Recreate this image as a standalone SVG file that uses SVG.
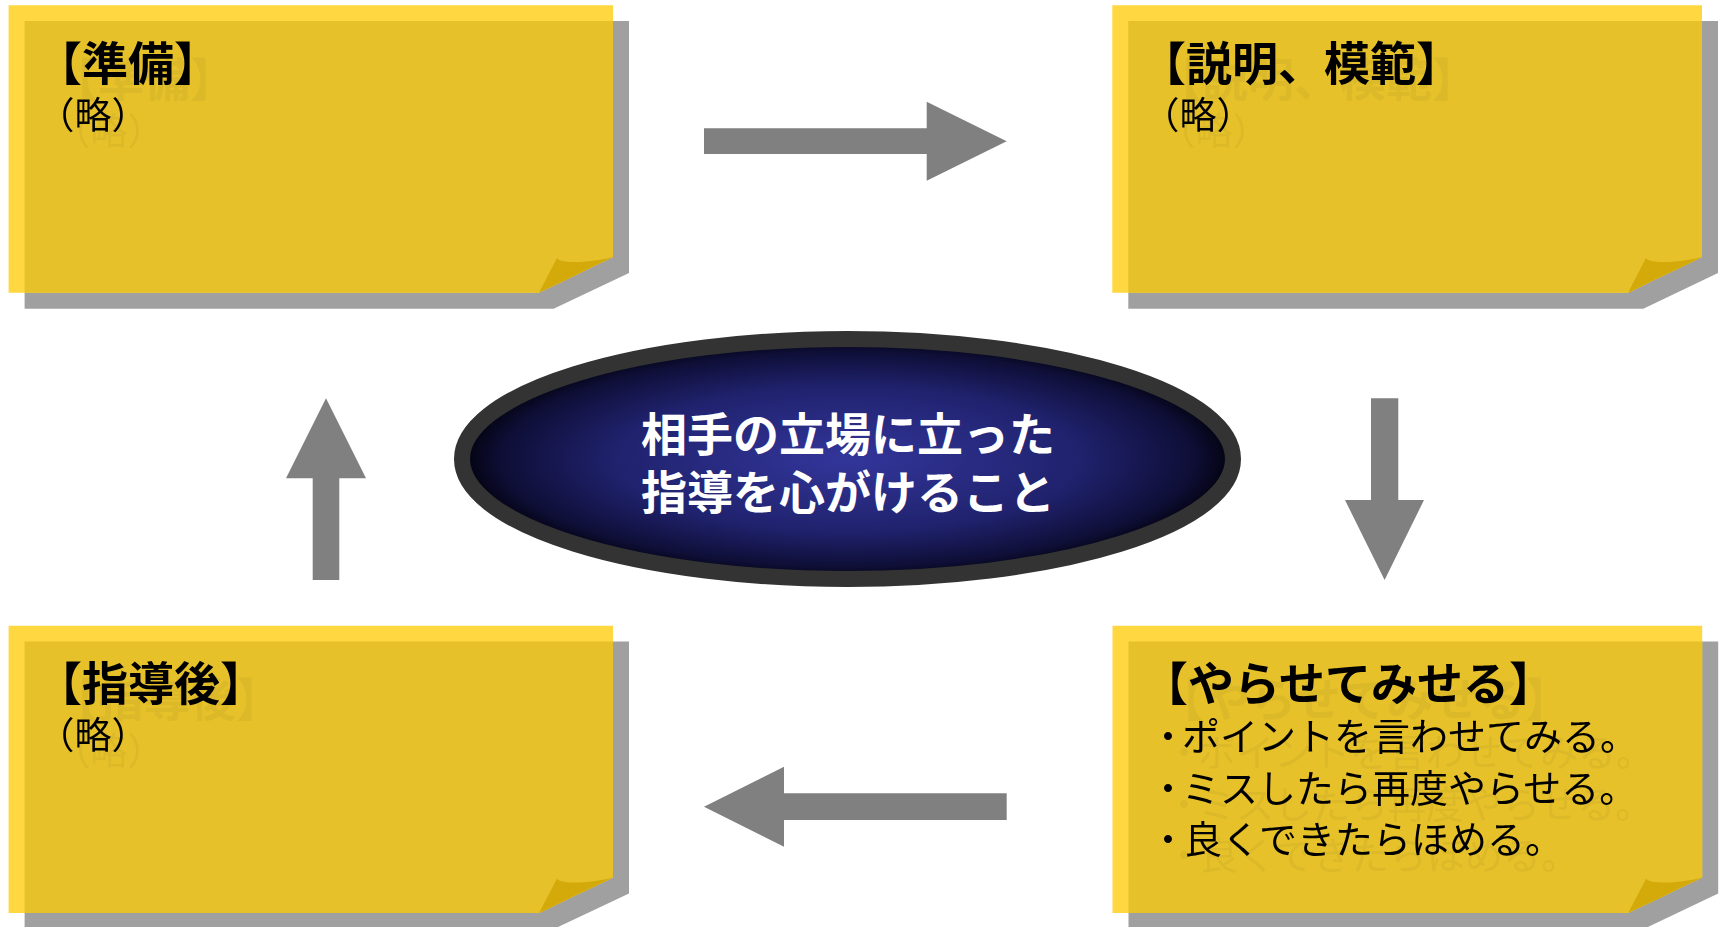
<svg xmlns="http://www.w3.org/2000/svg" width="1721" height="927" viewBox="0 0 1721 927">
<style>
.shadow{fill:#a0a0a0}
.light{fill:#ffd740}
.over{fill:#e6c12a}
.fold{fill:#d4aa0a}
.lbl{font-family:"Noto Sans CJK JP",sans-serif;fill:#000}
.title{font-weight:700;font-size:46px}
.body{font-weight:400;font-size:37px}
.bul{font-weight:400;font-size:38px}
.ctext{font-family:"Noto Sans CJK JP",sans-serif;font-weight:700;font-size:46px;fill:#fff}
.arrow{fill:#808080}
</style>
<defs>
<filter id="ghost" x="-10%" y="-20%" width="130%" height="160%">
<feDropShadow dx="16" dy="16" stdDeviation="0.6" flood-color="#000" flood-opacity="0.045"/>
</filter>
<radialGradient id="cg" cx="50%" cy="50%" r="50%">
<stop offset="0" stop-color="#33369a"/>
<stop offset="0.6" stop-color="#20226e"/>
<stop offset="0.9" stop-color="#0e0e36"/>
<stop offset="1" stop-color="#02020e"/>
</radialGradient>
</defs>
<rect width="1721" height="927" fill="#fff"/>

<g id="node-junbi" transform="translate(8.6,5.3)">
<path class="shadow" d="M16,15.7 H620.4 V267.7 L545,303.4 H16 Z"/>
<path class="light" d="M0,0 H604.4 V251.7 L530.4,287.4 H0 Z"/>
<path class="over" d="M16,15.7 H604.4 V251.7 L530.4,287.4 H16 Z"/>
<path class="fold" d="M548.4,252.7 C551,258.7 581,257.7 604.4,251.7 L530.4,287.4 Z"/>
<text class="lbl" filter="url(#ghost)"><tspan class="title" x="27.4" y="74.7">【準備】</tspan><tspan class="body" x="29" y="123.7">（略）</tspan></text>
</g>

<g id="node-setsumei" transform="translate(1112.3,5.3)">
<path class="shadow" d="M16,15.7 H605.7 V267.7 L531,303.4 H16 Z"/>
<path class="light" d="M0,0 H589.7 V251.7 L515.7,287.4 H0 Z"/>
<path class="over" d="M16,15.7 H589.7 V251.7 L515.7,287.4 H16 Z"/>
<path class="fold" d="M533.7,252.7 C536.3,258.7 566.3,257.7 589.7,251.7 L515.7,287.4 Z"/>
<text class="lbl" filter="url(#ghost)"><tspan class="title" x="27.7" y="74.7">【説明、模範】</tspan><tspan class="body" x="30.3" y="123.7">（略）</tspan></text>
</g>

<g id="node-shidougo" transform="translate(8.6,625.7)">
<path class="shadow" d="M16,15.7 H620.4 V267.7 L545,303.4 H16 Z"/>
<path class="light" d="M0,0 H604.4 V251.7 L530.4,287.4 H0 Z"/>
<path class="over" d="M16,15.7 H604.4 V251.7 L530.4,287.4 H16 Z"/>
<path class="fold" d="M548.4,252.7 C551,258.7 581,257.7 604.4,251.7 L530.4,287.4 Z"/>
<text class="lbl" filter="url(#ghost)"><tspan class="title" x="27.4" y="74.7">【指導後】</tspan><tspan class="body" x="29" y="123.7">（略）</tspan></text>
</g>

<g id="node-yarasete" transform="translate(1112.5,625.7)">
<path class="shadow" d="M16,15.7 H605.7 V267.7 L531,303.4 H16 Z"/>
<path class="light" d="M0,0 H589.7 V251.7 L515.7,287.4 H0 Z"/>
<path class="over" d="M16,15.7 H589.7 V251.7 L515.7,287.4 H16 Z"/>
<path class="fold" d="M533.7,252.7 C536.3,258.7 566.3,257.7 589.7,251.7 L515.7,287.4 Z"/>
<text class="lbl" filter="url(#ghost)"><tspan class="title" x="29.5" y="74.3">【やらせてみせる】</tspan><tspan class="bul" x="36.5" y="124.3">・<tspan dx="-5">ポイントを言わせてみる。</tspan></tspan><tspan class="bul" x="36.5" y="176.3">・<tspan dx="-5">ミスしたら再度やらせる。</tspan></tspan><tspan class="bul" x="36.5" y="227.8">・<tspan dx="-3">良くできたらほめる。</tspan></tspan></text>
</g>

<g id="node-center">
<ellipse cx="847.5" cy="459" rx="385.5" ry="120" fill="url(#cg)" stroke="#333" stroke-width="16"/>
<text class="ctext" text-anchor="middle"><tspan x="848" y="451">相手の立場に立った</tspan><tspan x="848" y="509">指導を心がけること</tspan></text>
</g>

<g id="connectors">
<path class="arrow" d="M704,128.3 H926.7 V101.7 L1006.7,141.3 L926.7,180.7 V154 H704 Z"/>
<path class="arrow" d="M1371,398.3 H1398.3 V500 H1424 L1384.6,580 L1345,500 H1371 Z"/>
<path class="arrow" d="M1006.7,793.3 H784 V766.7 L704,806.7 L784,846.7 V820 H1006.7 Z"/>
<path class="arrow" d="M312.7,580 V478.3 H286 L326,398.3 L366,478.3 H339.3 V580 Z"/>
</g>
</svg>
